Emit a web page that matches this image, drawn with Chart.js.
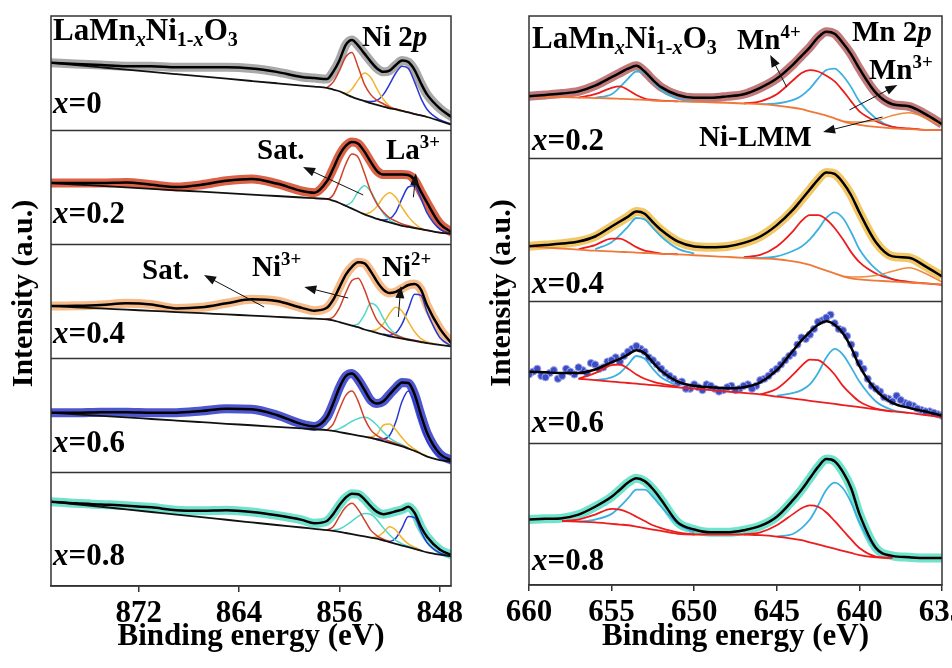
<!DOCTYPE html>
<html>
<head>
<meta charset="utf-8">
<script src="https://cdn.jsdelivr.net/npm/chart.js@4.4.0/dist/chart.umd.min.js"></script>
<style>
  body { margin: 0; background: #fff; width: 952px; height: 668px; overflow: hidden; position: relative;
         font-family: "Liberation Serif", "Times New Roman", serif; font-weight: bold; }
  canvas { position: absolute; top: 0; }
  #niChart { left: 0; }
  #mnChart { left: 476px; }
  .lbl { position: absolute; font-size: 31px; line-height: 1; white-space: nowrap; color: #000; }
  .sm { font-size: 29px; }
  sub, sup { font-size: 65%; line-height: 0; }
  sub { vertical-align: -0.3em; }
  sup { vertical-align: 0.6em; }
</style>
</head>
<body>
<canvas id="niChart" width="476" height="668"></canvas>
<canvas id="mnChart" width="476" height="668"></canvas>

<!-- left panel labels -->
<div class="lbl" style="left:53px;top:14px">LaMn<sub><i>x</i></sub>Ni<sub>1-<i>x</i></sub>O<sub>3</sub></div>
<div class="lbl sm" style="left:362px;top:22px">Ni 2<i>p</i></div>
<div class="lbl" style="left:53px;top:87px"><i>x</i>=0</div>
<div class="lbl" style="left:53px;top:197px"><i>x</i>=0.2</div>
<div class="lbl" style="left:53px;top:317px"><i>x</i>=0.4</div>
<div class="lbl" style="left:53px;top:426px"><i>x</i>=0.6</div>
<div class="lbl" style="left:53px;top:539px"><i>x</i>=0.8</div>
<div class="lbl sm" style="left:257px;top:135px">Sat.</div>
<div class="lbl sm" style="left:386px;top:135px">La<sup>3+</sup></div>
<div class="lbl sm" style="left:142px;top:255px">Sat.</div>
<div class="lbl sm" style="left:252px;top:252px">Ni<sup>3+</sup></div>
<div class="lbl sm" style="left:382px;top:252px">Ni<sup>2+</sup></div>

<!-- right panel labels -->
<div class="lbl" style="left:532px;top:22px">LaMn<sub><i>x</i></sub>Ni<sub>1-<i>x</i></sub>O<sub>3</sub></div>
<div class="lbl sm" style="left:737px;top:25px">Mn<sup>4+</sup></div>
<div class="lbl sm" style="left:852px;top:17px">Mn 2<i>p</i></div>
<div class="lbl sm" style="left:869px;top:55px">Mn<sup>3+</sup></div>
<div class="lbl sm" style="left:699px;top:122px">Ni-LMM</div>
<div class="lbl" style="left:532px;top:124px"><i>x</i>=0.2</div>
<div class="lbl" style="left:532px;top:267px"><i>x</i>=0.4</div>
<div class="lbl" style="left:532px;top:406px"><i>x</i>=0.6</div>
<div class="lbl" style="left:532px;top:544px"><i>x</i>=0.8</div>

<script>
// ---------- Ni 2p (left) : binding energies ----------
const niE = [879, 877, 875, 873, 871, 869, 867, 865, 863, 861, 859,
             858, 857, 856.5, 856, 855.5, 855, 854.5, 854, 853.5, 853, 852.5, 852, 851.5, 851, 850.5, 850, 849.5, 849, 848, 847];
const niCompE = [858, 857, 856.5, 856, 855.5, 855, 854.5, 854, 853.5, 853, 852.5, 852, 851.5, 851, 850.5, 850, 849.5, 849, 848, 847];

// intensities, 0-100 inside each strip
const niEnv0  = [59, 58, 57, 56, 56, 55, 55, 55, 54, 51, 46.5, 45.6, 44.7, 51, 61, 74.5, 79, 74, 67, 60, 54, 51, 52, 57, 61, 59.6, 52.6, 41, 31, 19, 11];
const niBase0 = [59, 57, 55, 53, 51, 49, 47, 45, 43, 41, 39, 38, 37, 35.5, 34, 31.5, 29, 27, 25.4, 23.5, 22, 20.5, 19, 18, 16.7, 15.5, 14, 12.8, 11.4, 8, 4.4];
const niRed0  = [null, 37, 42, 52, 64, 68, 55, 40, 31, 26, 23, 20, 18.5, 17, 15.5, 14, 12.8, 11.5, null, null];
const niOrg0  = [null, null, null, 34, 32, 36, 44, 50, 46, 36, 27, 21, 18, 16.7, null, null, null, null, null, null];
const niBlue0 = [null, null, null, null, null, null, null, 25.4, 25, 26, 31, 40, 50, 56, 54, 42, 28, 18, 9, 5];

const niEnv2  = [53.5, 53.5, 53.5, 54, 52, 50, 52, 55.5, 57, 53, 46.5, 45, 55, 66, 78, 86, 89.5, 88, 81, 72, 64, 61, 61, 61, 61, 60.5, 56, 46, 36, 18, 10];
const niBase2 = [53.5, 52.2, 51, 49.7, 48.4, 47.1, 45.9, 44.6, 43.3, 42.1, 40.8, 40.2, 39.5, 38, 36, 33.5, 31, 28.5, 26, 24, 22, 20.5, 19, 17.5, 16, 15, 14, 13, 12, 10, 9];
const niRed2  = [40, 39.5, 43, 55, 70, 79, 76, 62, 46, 35, 28, 23, 20, 17.5, 16, 14.5, 13, 12, 10, 9];
const niCyan2 = [null, null, null, null, 33.5, 37, 46, 51, 46, 36, 27, 21, 18, 16, null, null, null, null, null, null];
const niOrg2  = [null, null, null, null, null, null, null, 26, 28, 33, 41, 45, 41, 32, 24, 18, 14, 12, null, null];
const niBlue2 = [null, null, null, null, null, null, null, null, null, 22, 21, 22, 28, 40, 50, 51, 40, 27, 13, 9];

const niEnv4  = [45.6, 45.8, 46.5, 48, 47, 43.5, 44.5, 48, 51.5, 50, 44, 41.5, 44, 51, 62, 73, 80, 84, 83, 76, 67, 60, 57, 58, 61, 64, 65, 60, 46, 26, 12];
const niBase4 = [45.6, 44.5, 43.5, 42.4, 41.4, 40.3, 39.3, 38.2, 37.2, 36.1, 35, 34.5, 34, 33, 31.5, 30, 28.5, 27, 25, 23.5, 22, 20.5, 19, 18, 17, 16, 15, 14, 13, 11.5, 10];
const niRed4  = [null, 34, 36, 44, 57, 68, 70, 60, 45, 33, 27, 23, 20, 18, 16.5, 15.5, 14.5, 13, null, null];
const niCyan4 = [null, null, null, null, null, 28.5, 30, 38, 48, 45, 35, 26, 21, 18, 16, null, null, null, null, null];
const niOrg4  = [null, null, null, null, null, null, null, null, 24, 25, 30, 39, 44.5, 41, 32, 23, 17, 14, 11.5, null];
const niBlue4 = [null, null, null, null, null, null, null, null, null, null, 21, 20, 22, 30, 43, 56, 55, 40, 18, 10];

const niEnv6  = [52, 52, 52.5, 52.5, 52, 52, 53.5, 55.5, 55, 50, 42, 40, 48, 60, 74, 84, 86.5, 81, 72, 63, 60, 62, 68, 74, 78.5, 78, 68, 50, 34, 16, 10];
const niBase6 = [52, 50.6, 49.2, 47.9, 46.5, 45.1, 43.7, 42.3, 41, 39.6, 38.2, 37.5, 36.8, 36, 35, 34, 33, 32, 31, 30, 28.5, 27, 25.5, 24, 22.5, 20.5, 18.5, 16, 13.5, 10.5, 9];
const niRed6  = [null, 37, 42, 55, 67, 71, 62, 47, 37, 32, 29, 27, 25, 23, 21, null, null, null, null, null];
const niCyan6 = [null, null, 36, 38, 41, 44.5, 47, 48, 46, 41, 35, 30, 26.5, 24, 21, null, null, null, null, null];
const niOrg6  = [null, null, null, null, null, null, null, 31, 31, 33, 41, 42, 37, 30, 24, 20, 16.5, 14, null, null];
const niBlue6 = [null, null, null, null, null, null, null, null, 30, 29, 29, 32, 44, 62, 71, 60, 42, 27, 13, 9];

const niEnv8  = [74, 72.5, 71.5, 70.5, 69, 66.5, 66, 66.5, 65, 62, 58, 55, 57, 63, 71, 77.5, 81, 80.5, 76, 70, 65, 63, 64, 65.5, 67, 69.5, 64, 52, 43, 32, 27];
const niBase8 = [74, 71.7, 69.5, 67.2, 64.9, 62.6, 60.4, 58.1, 55.8, 53.5, 51.3, 50.1, 49, 48.3, 47.5, 46.5, 45.5, 44.5, 43.5, 42.5, 41.5, 40, 38.5, 37, 35.5, 34, 32.5, 31, 29.5, 27.5, 26];
const niRed8  = [null, 49, 52, 61, 69, 72.5, 67, 58, 49, 44, 41, 39, null, null, null, null, null, null, null, null];
const niCyan8 = [null, null, 49, 50, 53, 57, 61, 63.5, 63, 58, 51, 45, 40, 37, 35, 33, null, null, null, null];
const niOrg8  = [null, null, null, null, null, null, null, null, 42.5, 43, 47, 52, 49, 42, 37, 34, 31.5, null, null, null];
const niBlue8 = [null, null, null, null, null, null, null, null, null, null, 40, 39, 42, 51, 61, 60, 48, 38, 29, 26];

// ---------- Mn 2p (right) ----------
const mnE = [660, 659, 658, 657, 656, 655, 654.5, 654, 653.5, 653, 652.5, 652, 651, 650, 649, 648, 647,
             646, 645, 644, 643.5, 643, 642.5, 642, 641.5, 641, 640.5, 640, 639, 638, 637, 636, 635];

const mnEnv2  = [43.6, 44.5, 45.5, 47, 51, 57, 60, 63, 65, 61, 55, 50, 44.5, 42.5, 42.5, 43.5, 45, 49.5, 56, 66, 72, 78, 85, 89, 87.5, 81, 73, 63, 46, 38, 36.5, 31, 24];
const mnBase2 = [43.6, 43.3, 43, 42.6, 42.3, 42, 41.8, 41.6, 41.3, 41, 40.6, 40.3, 40, 39.6, 39.3, 39, 38.5, 38, 37, 35.5, 34.5, 33, 31.5, 30, 28, 26, 24.5, 23.5, 22, 21, 20.5, 20, 20];
const mnLmm2  = [null, null, null, null, null, null, null, null, null, null, null, null, null, null, null, null, null, null, null, null, null, null, null, null, null, 26, 25.5, 25.5, 26.5, 30, 32, 28.5, 23];
const mnRed2  = [null, null, null, 42.6, 45, 49.5, 50.5, 48, 44.5, 42, 41, 40.5, 40, null, null, null, 38.5, 40, 45, 55, 60, 62, 61, 58, 54, 47.5, 40, 33, 26, 22, 21, 20, 20];
const mnCyan2 = [null, null, null, null, 42.5, 45, 50, 56, 61, 60, 54, 48, 42, 40, null, null, null, 38, 38.5, 41, 44, 49, 56, 62, 63, 58, 50, 40, 28, 22, 20.5, null, null];

const mnEnv4  = [38.2, 39, 40, 41.5, 45, 52, 55.5, 59, 62.5, 61, 55, 49.5, 41.5, 38, 37.5, 38, 40.5, 45, 53, 64, 71, 78, 85, 90, 89, 83, 74, 62, 41, 31, 30, 24, 17];
const mnBase4 = [38, 37.2, 36.5, 35.8, 35, 34.5, 34.2, 34, 33.7, 33.4, 33.1, 32.8, 32.4, 31.8, 31.2, 30.6, 30, 29.5, 29, 27.5, 26.5, 25, 23, 21, 19, 17, 15.5, 14.8, 14, 13.3, 12.6, 12, 11.3];
const mnLmm4  = [null, null, null, null, null, null, null, null, null, null, null, null, null, null, null, null, null, null, null, null, null, null, null, null, null, 17, 16.5, 16.5, 17.5, 20.5, 23, 19, 13];
const mnRed4  = [null, null, null, 36, 39, 43.5, 43.5, 41, 37.5, 35, 34, 33, 32.5, null, null, null, 30.5, 32, 38, 49, 56, 60, 60, 57, 51, 43, 34, 27, 19, 15, 13, 12, 11];
const mnCyan4 = [null, null, null, null, 36, 41, 46, 52, 58, 57, 51, 45, 36.5, 33, null, null, 30, 30, 31, 35, 38, 43, 50, 58, 62, 58, 48, 36, 22, 15, 13, null, null];

const mnEnv6  = [50, 49.5, 49, 49, 51.5, 56.5, 59, 62, 65, 63, 56.5, 50.5, 43, 40, 39, 38.3, 39, 42.5, 51, 65, 72, 78, 83, 85.5, 83, 77, 67, 54, 37, 28, 24.5, 22, 19];
const mnBase6 = [null, null, null, 45, 44, 43, 42.5, 42, 41.5, 41, 40.5, 40, 39, 38, 37, 36, 35, 34, 32.5, 31, 30.3, 29.5, 28.8, 28, 27.3, 26.5, 25.8, 25, 23.5, 22, 21, 19.5, 18];
const mnRed6  = [null, null, null, 45, 49, 54.5, 55, 52, 48, 45, 43, 41.5, 39.5, null, null, null, null, 34, 38, 48, 54, 58.5, 58, 54, 48, 40, 34, 29, 24, 22, null, null, null];
const mnCyan6 = [null, null, null, null, 44, 46, 49, 55, 61, 59, 52, 46, 40, null, null, null, null, null, 33, 35, 37, 41, 49, 60, 66, 62, 53, 43, 29, 23, 21, null, null];
// measured points for x=0.6 (noisy circles), two interleaved sweeps
const mnDotE6 = [660, 659.5, 659, 658.5, 658, 657.5, 657, 656.5, 656, 655.5, 655, 654.5, 654, 653.5, 653, 652.5, 652,
                 651.5, 651, 650.5, 650, 649.5, 649, 648.5, 648, 647.5, 647, 646.5, 646, 645.5, 645, 644.5, 644,
                 643.5, 643, 642.5, 642, 641.5, 641, 640.5, 640, 639.5, 639, 638.5, 638, 637.5, 637, 636.5, 636, 635.5, 635];
const mnDot6  = [48, 52, 46, 51, 47, 50, 53, 49, 55, 53, 58, 57, 64, 68, 64, 58, 52,
                 47, 42, 38, 41, 37, 40, 36, 39, 37, 40, 38, 44, 47, 52, 58, 63,
                 74, 76, 85, 88, 84, 79, 69, 56, 45, 38, 32, 29, 30, 27, 24, 22, 21, 19];
const mnDotE6b = [659.75, 659.25, 658.75, 658.25, 657.75, 657.25, 656.75, 656.25, 655.75, 655.25, 654.75, 654.25, 653.75,
                  653.25, 652.75, 652.25, 651.75, 651.25, 650.75, 650.25, 649.75, 649.25, 648.75, 648.25, 647.75,
                  647.25, 646.75, 646.25, 645.75, 645.25, 644.75, 644.25, 643.75, 643.25, 642.75, 642.25, 641.75,
                  641.25, 640.75, 640.25, 639.75, 639.25, 638.75, 638.25, 637.75, 637.25, 636.75, 636.25, 635.75, 635.25];
const mnDot6b  = [50, 47, 49, 45, 52, 48, 51, 56, 52, 57, 60, 61, 66,
                  66, 60, 55, 49, 45, 43, 38, 39, 41, 38, 37, 40,
                  38, 41, 40, 45, 50, 55, 61, 69, 73, 80, 86, 90,
                  80, 75, 62, 52, 40, 36, 31, 33, 28, 26, 23, 22, 20];

const mnEnv8  = [46, 46.5, 47, 49.5, 55, 62, 67, 72, 75, 73, 67.5, 60, 44, 39, 37, 37, 38.5, 41.5, 48, 60, 67, 75, 83, 88.5, 87, 79.5, 68, 50, 26, 20.5, 19.5, 19, 19];
const mnBase8 = [null, null, 45, 44.5, 44, 43, 42.5, 42, 41, 40, 39, 38, 36, 35.5, 35.5, 35.5, 35.5, 35, 34, 32.5, 31.5, 30, 28.5, 27, 25.5, 24, 22.5, 21, 19.5, 19, null, null, null];
const mnRed8  = [null, null, 45, 46, 49.5, 53.5, 53, 51, 48, 45, 42, 40, 37, 35.5, null, null, 35.5, 37, 42, 50, 54, 56, 55, 51, 45, 38.5, 32, 26, 20, 19, null, null, null];
const mnCyan8 = [null, null, null, 44.5, 46, 50, 55, 61, 67, 67, 62, 55, 43, 37, null, null, null, null, 34, 36, 40, 46, 56, 67, 72, 68, 58, 44, 25, 19.5, null, null, null];

const niTicks = { min: 847.1, max: 879, step: 8 };
const mnTicks = { min: 635, max: 660, step: 5 };

// ---------- helpers ----------
function line(xs, ys, off, color, width, order) {
  return {
    data: xs.map((e, i) => ({ x: e, y: ys[i] == null ? null : ys[i] + off })),
    borderColor: color,
    borderWidth: width,
    order: order,
    pointRadius: 0,
    cubicInterpolationMode: 'monotone',
    spanGaps: false,
    clip: 0
  };
}

function dots(xs, ys, off) {
  const d = line(xs, ys, off, '#9aa4ea', 1, 5);
  return Object.assign(d, { showLine: false, pointRadius: 3.6, pointBackgroundColor: '#3c4cc4', pointBorderColor: '#9aa4ea' });
}

const framePlugin = {
  id: 'frame',
  afterDatasetsDraw(chart, args, opts) {
    const { ctx, chartArea: a, scales: { x, y } } = chart;
    ctx.save();
    ctx.strokeStyle = '#333';
    ctx.lineWidth = 1.5;
    ctx.strokeRect(a.left, a.top, a.right - a.left, a.bottom - a.top);
    (opts.dividers || []).forEach(v => {
      const py = Math.round(y.getPixelForValue(v)) + 0.5;
      ctx.beginPath(); ctx.moveTo(a.left, py); ctx.lineTo(a.right, py); ctx.stroke();
    });
    // annotation arrows
    ctx.strokeStyle = '#111';
    ctx.fillStyle = '#111';
    ctx.lineWidth = 1;
    (opts.arrows || []).forEach(([e0, v0, e1, v1]) => {
      const x0 = x.getPixelForValue(e0), y0 = y.getPixelForValue(v0);
      const x1 = x.getPixelForValue(e1), y1 = y.getPixelForValue(v1);
      const ang = Math.atan2(y1 - y0, x1 - x0);
      const c = Math.cos(ang), s = Math.sin(ang);
      ctx.beginPath();
      ctx.moveTo(x0, y0);
      ctx.lineTo(x1 - 9 * c, y1 - 9 * s);
      ctx.stroke();
      ctx.beginPath();
      ctx.moveTo(x1, y1);
      ctx.lineTo(x1 - 12 * c + 4.5 * s, y1 - 12 * s - 4.5 * c);
      ctx.lineTo(x1 - 12 * c - 4.5 * s, y1 - 12 * s + 4.5 * c);
      ctx.closePath();
      ctx.fill();
    });
    ctx.restore();
  }
};

function makeOptions(t, ymax, axisW, axisH, padRight, titlePad, plug) {
  const serif = '"Liberation Serif", "Times New Roman", serif';
  return {
    responsive: false,
    animation: false,
    events: [],
    layout: { padding: { top: 16, right: padRight, bottom: 0, left: 0 } },
    plugins: { legend: { display: false }, tooltip: { enabled: false }, frame: plug },
    scales: {
      x: {
        type: 'linear', reverse: true, min: t.min, max: t.max,
        afterFit: s => { s.height = axisH; s.paddingLeft = 0; s.paddingRight = 0; },
        ticks: { stepSize: t.step, includeBounds: false, autoSkip: false, maxRotation: 0, padding: 3,
                 color: '#000', font: { family: serif, size: 31, weight: 'bold' } },
        grid: { drawOnChartArea: false, drawTicks: true, tickLength: 6, color: '#333', lineWidth: 1.5 },
        border: { color: '#333', width: 1.5 },
        title: { display: true, text: 'Binding energy (eV)', color: '#000', padding: { top: 0, bottom: 12 },
                 font: { family: serif, size: 31, weight: 'bold' } }
      },
      y: {
        min: 0, max: ymax,
        afterFit: s => { s.width = axisW; },
        ticks: { display: false, stepSize: 100 },
        grid: { display: false },
        border: { display: false },
        title: { display: true, text: '  Intensity (a.u.)', color: '#000', padding: { top: titlePad, bottom: 0 },
                 font: { family: serif, size: 30, weight: 'bold' } }
      }
    }
  };
}

// ---------- left: Ni 2p ----------
const niStrips = [
  { off: 400, band: 'rgba(140,140,140,0.75)', env: niEnv0, base: niBase0, red: niRed0, cyan: null,    org: niOrg0, blue: niBlue0 },
  { off: 300, band: 'rgba(214,76,44,0.88)',   env: niEnv2, base: niBase2, red: niRed2, cyan: niCyan2, org: niOrg2, blue: niBlue2 },
  { off: 200, band: 'rgba(246,180,124,0.9)',  env: niEnv4, base: niBase4, red: niRed4, cyan: niCyan4, org: niOrg4, blue: niBlue4 },
  { off: 100, band: 'rgba(52,62,200,0.88)',   env: niEnv6, base: niBase6, red: niRed6, cyan: niCyan6, org: niOrg6, blue: niBlue6 },
  { off: 0,   band: 'rgba(96,222,200,0.9)',   env: niEnv8, base: niBase8, red: niRed8, cyan: niCyan8, org: niOrg8, blue: niBlue8 }
];
const niSets = [];
niStrips.forEach(p => {
  niSets.push(line(niE, p.env, p.off, p.band, 9, 5));
  niSets.push(line(niCompE, p.red, p.off, '#d0402a', 1.5, 3));
  if (p.cyan) niSets.push(line(niCompE, p.cyan, p.off, '#4fd8c8', 1.5, 3));
  niSets.push(line(niCompE, p.org, p.off, '#f2b532', 1.5, 3));
  niSets.push(line(niCompE, p.blue, p.off, '#2838d0', 1.5, 3));
  niSets.push(line(niE, p.base, p.off, '#111', 1.8, 1));
  niSets.push(line(niE, p.env, p.off, '#000', 2.5, 0));
});

new Chart(document.getElementById('niChart'), {
  type: 'line',
  data: { datasets: niSets },
  options: makeOptions(niTicks, 500, 51, 82, 25, 6, {
    dividers: [100, 200, 300, 400],
    arrows: [[854.1, 343, 858.9, 367.5], [850.1, 341, 849.9, 362], [862.0, 244.7, 866.8, 272.8],
             [855.3, 252.6, 858.8, 262.3], [851.3, 236, 851.1, 263]]
  }),
  plugins: [framePlugin]
});

// ---------- right: Mn 2p ----------
const mnStrips = [
  { off: 300, band: 'rgba(178,88,88,0.8)',   env: mnEnv2, base: mnBase2, baseColor: '#f07838', lmm: mnLmm2, red: mnRed2, cyan: mnCyan2 },
  { off: 200, band: 'rgba(240,192,82,0.88)', env: mnEnv4, base: mnBase4, baseColor: '#f07838', lmm: mnLmm4, red: mnRed4, cyan: mnCyan4 },
  { off: 100, band: null,                    env: mnEnv6, base: mnBase6, baseColor: '#ee1c1c', lmm: null,   red: mnRed6, cyan: mnCyan6 },
  { off: 0,   band: 'rgba(96,224,200,0.9)',  env: mnEnv8, base: mnBase8, baseColor: '#ee1c1c', lmm: null,   red: mnRed8, cyan: mnCyan8 }
];
const mnSets = [];
mnStrips.forEach(p => {
  if (p.band) {
    mnSets.push(line(mnE, p.env, p.off, p.band, 9, 5));
  } else {
    mnSets.push(dots(mnDotE6, mnDot6, p.off));
    mnSets.push(dots(mnDotE6b, mnDot6b, p.off));
  }
  mnSets.push(line(mnE, p.red, p.off, '#ee1c1c', 1.8, 3));
  mnSets.push(line(mnE, p.cyan, p.off, '#3cb0e0', 1.8, 3));
  mnSets.push(line(mnE, p.base, p.off, p.baseColor, 1.8, 2));
  if (p.lmm) mnSets.push(line(mnE, p.lmm, p.off, '#f08a3c', 1.5, 2));
  mnSets.push(line(mnE, p.env, p.off, '#000', 2.5, 0));
});

new Chart(document.getElementById('mnChart'), {
  type: 'line',
  data: { datasets: mnSets },
  options: makeOptions(mnTicks, 400, 53, 83, 10, 8, {
    dividers: [100, 200, 300],
    arrows: [[644.4, 350, 645.4, 372.6], [640.6, 334, 637.7, 351.5], [638.6, 329, 642.2, 318.5]]
  }),
  plugins: [framePlugin]
});
</script>
</body>
</html>
